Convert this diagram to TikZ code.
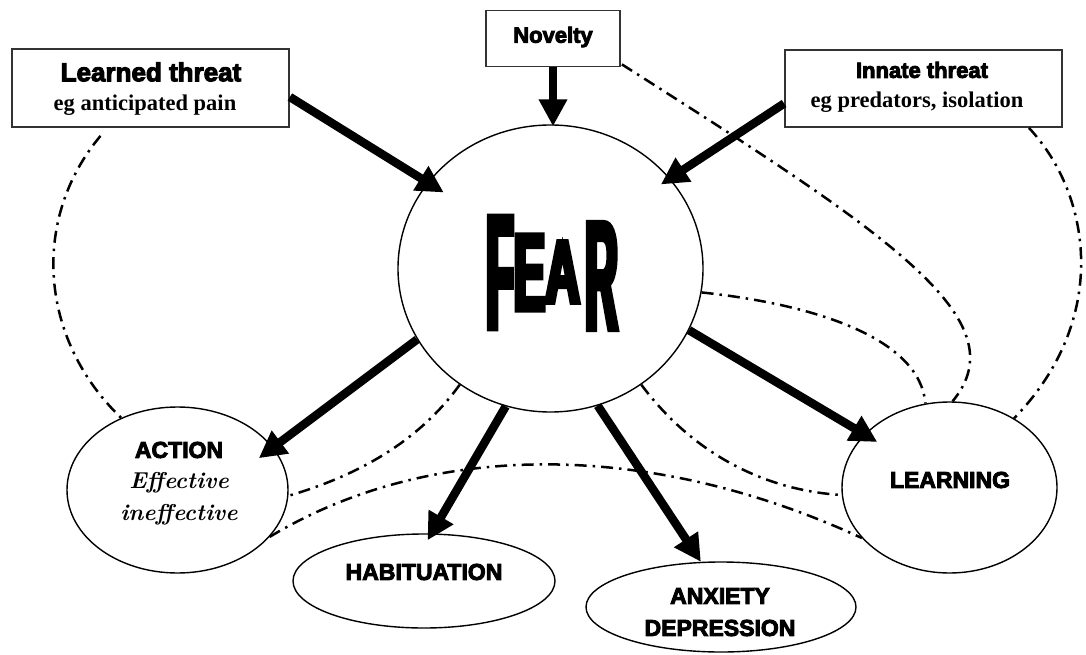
\documentclass[tikz,border=0pt]{standalone}
\usepackage{fontspec}
\usetikzlibrary{arrows.meta,shapes.geometric,calc}
\newfontfamily\heavy{Liberation Sans Bold}[FakeBold=4]
\newfontfamily\fearF{Liberation Sans Bold}[FakeStretch=0.27, FakeBold=3]
\newfontfamily\fearE{Liberation Sans Bold}[FakeStretch=0.43, FakeBold=4]
\newfontfamily\fearA{Liberation Sans Bold}[FakeStretch=0.54, FakeBold=5]
\newfontfamily\fearR{Liberation Sans Bold}[FakeStretch=0.29, FakeBold=3]
\newfontfamily\tnr{Liberation Serif Bold}
\tikzset{
  box/.style={draw=black!80, line width=1.8pt, rectangle, inner sep=0pt},
  oval/.style={draw, ellipse, line width=1.4pt, inner sep=0pt},
  lbl/.style={inner sep=0pt, anchor=center},
  arr/.style={line width=8.5pt, -{Triangle[length=27pt,width=27pt]}},
  dd/.style={line width=2.5pt, dash pattern=on 12pt off 6pt on 2.5pt off 6pt},
}
\begin{document}
\begin{tikzpicture}[x=1pt,y=-1pt]
\path[use as bounding box] (0,0) rectangle (1086,655);

% boxes
\node[box, minimum width=277pt, minimum height=78pt] (learned) at (150.5,88) {};
\node[lbl, font=\heavy\fontsize{26}{28}\selectfont] (learnedA) at (151,72) {Learned threat};
\node[lbl, font=\tnr\fontsize{22.5}{26}\selectfont] (learnedB) at (145,105) {eg anticipated pain};

\node[box, minimum width=134pt, minimum height=56pt] (novelty) at (553,38.5) {};
\node[lbl, font=\heavy\fontsize{22}{26}\selectfont] (noveltyA) at (553,37) {Novelty};

\node[box, minimum width=277pt, minimum height=77pt] (innate) at (923.5,88.5) {};
\node[lbl, font=\heavy\fontsize{22}{26}\selectfont] (innateA) at (922,70) {Innate threat};
\node[lbl, font=\tnr\fontsize{22.5}{26}\selectfont] (innateB) at (917,102) {eg predators, isolation};

% FEAR
\node[oval, minimum width=305pt, minimum height=287pt] (fear) at (550.5,268.5) {};
\node[lbl] (fF) at (500,272.5) {\fearF\fontsize{164}{164}\selectfont F};
\node[lbl] (fE) at (529.5,272.5) {\fearE\fontsize{110}{110}\selectfont E};
\node[lbl] (fA) at (562.5,272) {\fearA\fontsize{89}{89}\selectfont A};
\node[lbl] (fR) at (601.5,276) {\fearR\fontsize{156}{156}\selectfont R};

% outcome ellipses
\node[oval, minimum width=221pt, minimum height=166pt] (action) at (177.5,490) {};
\node[lbl, font=\heavy\fontsize{23}{26}\selectfont] (actionA) at (179,450) {ACTION};
\node[lbl, font=\bfseries\itshape\fontsize{23}{26}\selectfont] (actionB) at (179,483) {Effective};
\node[lbl, font=\bfseries\itshape\fontsize{23}{26}\selectfont] (actionC) at (179,515) {ineffective};

\node[oval, minimum width=262pt, minimum height=94pt] (hab) at (424,581) {};
\node[lbl, font=\heavy\fontsize{23}{26}\selectfont] (habA) at (424,572) {HABITUATION};

\node[oval, minimum width=270pt, minimum height=90pt] (anx) at (721,607) {};
\node[lbl, font=\heavy\fontsize{23}{26}\selectfont] (anxA) at (720,596) {ANXIETY};
\node[lbl, font=\heavy\fontsize{23}{26}\selectfont] (anxB) at (720,628) {DEPRESSION};

\node[oval, minimum width=215pt, minimum height=171pt] (learn) at (949.5,487.5) {};
\node[lbl, font=\heavy\fontsize{23}{26}\selectfont] (learnA) at (950,480) {LEARNING};

% dash-dot links
\draw[dd] ([xshift=-50pt,yshift=-8pt]learned.south) .. controls (30,220) and (40,340) .. (action.128);
\draw[dd] ([xshift=1pt,yshift=3pt]novelty.south east) .. controls (890,235) and (1020,320) .. (learn.88);
\draw[dd] ([xshift=-34pt]innate.south east) .. controls (1092,195) and (1110,320) .. (learn.47);
\draw[dd] (fear.351.8) .. controls (820,305) and (920,340) .. (learn.106.8);
\draw[dd] (fear.308.5) .. controls (690,450) and (760,490) .. (learn.184);
\draw[dd] (fear.232) .. controls (420,440) and (360,475) .. (action.357.4);
\draw[dd] (action.333) .. controls (430,440) and (650,440) .. (learn.210);

% thick arrows
\draw[arr, shorten >=-19pt] ([yshift=-9pt]learned.east) -- (fear.145.7);
\draw[arr, shorten >=-2pt] (novelty.south) -- (novelty.south |- fear.north);
\draw[arr, shorten >=-11pt] ([yshift=-15pt]innate.west) -- (fear.37);
\draw[arr, shorten >=-18pt] (fear.208) -- (action.24);
\draw[arr, shorten >=-8pt] (fear.252) -- (hab.81);
\draw[arr] (fear.289) -- (anx.114);
\draw[arr, shorten >=-15pt] (fear.336.6) -- (learn.148.5);
\end{tikzpicture}
\end{document}
